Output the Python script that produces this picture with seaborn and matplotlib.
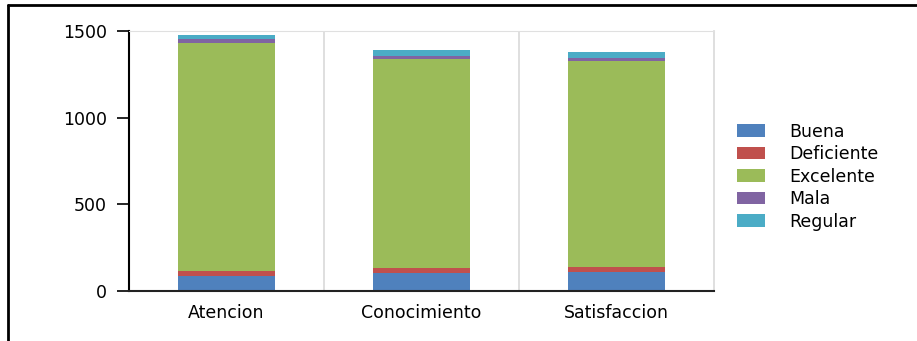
import numpy as np
import pandas as pd
import matplotlib
matplotlib.use("Agg")
import matplotlib.pyplot as plt
from matplotlib.lines import Line2D
import seaborn as sns

# data
categories = ["Atencion", "Conocimiento", "Satisfaccion"]
series_names = ["Buena", "Deficiente", "Excelente", "Mala", "Regular"]
buena = [85, 102, 110]
deficiente = [29, 29, 27]
excelente = [1319, 1208, 1190]
mala = [19, 19, 19]
regular = [25, 33, 35]
colors = ["#4F81BD", "#C0504D", "#9BBB59", "#8064A2", "#4BACC6"]
y_ticks = [0, 500, 1000, 1500]

df = pd.DataFrame({"categoria": categories, "Buena": buena, "Deficiente": deficiente,
                   "Excelente": excelente, "Mala": mala, "Regular": regular})

sns.set_style("white")
plt.rcParams["font.family"] = ["DejaVu Sans"]
plt.rcParams["text.color"] = "black"
plt.rcParams["xtick.color"] = "black"
plt.rcParams["ytick.color"] = "black"
fs = 12.5

fig = plt.figure(figsize=(9.17, 3.41), dpi=100)
ax = fig.add_axes([0.1407, 0.1466, 0.6379, 0.7624])

# stacked bars, one seaborn call per series
bottom = np.zeros(len(categories))
for name, col in zip(series_names, colors):
    sns.barplot(data=df, x="categoria", y=name, bottom=bottom, color=col,
                width=0.5, label=name, ax=ax, saturation=1, linewidth=0)
    bottom = bottom + df[name].to_numpy()

ax.set_xlim(-0.5, 2.5)
ax.set_ylim(0, 1500)
ax.set_yticks(y_ticks)
ax.set_xlabel("")
ax.set_ylabel("")

# category boundaries as major ticks, labels on minor ticks
ax.set_xticks([-0.5, 0.5, 1.5, 2.5])
ax.set_xticklabels([])
ax.set_xticks([0, 1, 2], minor=True)
ax.set_xticklabels(categories, minor=True)
ax.tick_params(axis="x", which="major", direction="out", length=8, width=1.5, color="black")
ax.tick_params(axis="x", which="minor", length=0, pad=9, labelsize=fs)
ax.tick_params(axis="y", direction="out", length=9, width=1.2, color="black",
               pad=7, labelsize=fs, left=True)

for x in [0.5, 1.5]:
    ax.axvline(x, color="#D9D9D9", lw=1.2, zorder=0)
ax.spines["left"].set_color("black")
ax.spines["left"].set_linewidth(1.5)
ax.spines["bottom"].set_color("#222222")
ax.spines["bottom"].set_linewidth(1.5)
ax.spines["top"].set_color("#E0E0E0")
ax.spines["right"].set_color("#D9D9D9")
ax.spines["right"].set_linewidth(1.2)

ax.legend(loc="upper left", bbox_to_anchor=(0.7965, 0.661), bbox_transform=fig.transFigure,
          frameon=False, fontsize=fs, handlelength=1.6, handleheight=0.75,
          handletextpad=1.4, labelspacing=0.26, borderaxespad=0)

# screenshot frame (top and left only)
fig.add_artist(Line2D([0.009, 1.0], [0.985, 0.985], color="black", lw=2, transform=fig.transFigure))
fig.add_artist(Line2D([0.009, 0.009], [0.0, 0.985], color="black", lw=2, transform=fig.transFigure))

fig.savefig("out.png", dpi=100)
